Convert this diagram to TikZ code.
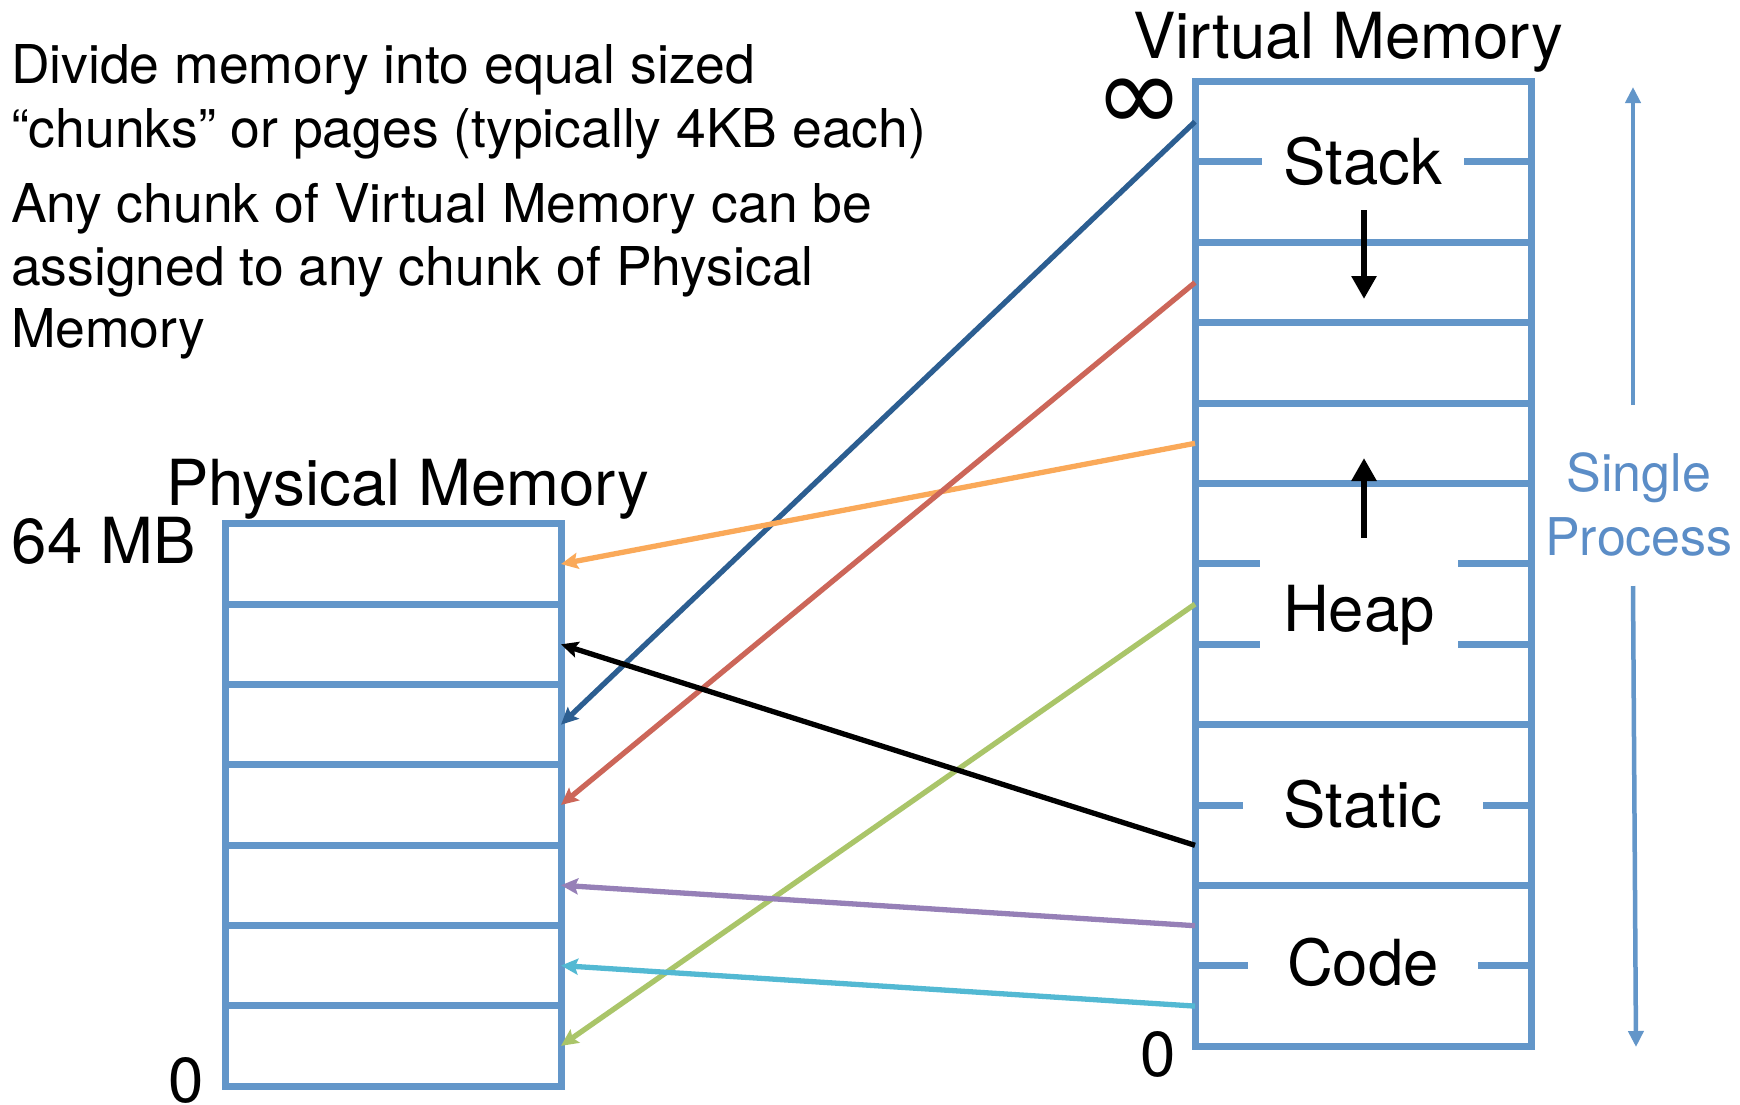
\documentclass[tikz,border=0pt]{standalone}
\usepackage{fontspec}
\setmainfont{TeX Gyre Heros}
\newfontfamily\symfamily{DejaVu Sans}
\usetikzlibrary{arrows.meta}

% palette
\definecolor{boxblue}{RGB}{99,150,201}
\definecolor{labelblue}{RGB}{91,141,199}
\definecolor{mapnavy}{RGB}{44,94,145}
\definecolor{mapred}{RGB}{204,102,89}
\definecolor{maporange}{RGB}{250,169,89}
\definecolor{mapgreen}{RGB}{170,197,105}
\definecolor{mappurple}{RGB}{150,128,183}
\definecolor{mapcyan}{RGB}{83,185,211}

% type sizes
\newcommand{\titlesize}{\fontsize{63.5}{70}\selectfont}
\newcommand{\notesize}{\fontsize{53.5}{63.5}\selectfont}
\newcommand{\sidesize}{\fontsize{52}{62}\selectfont}

\begin{document}
\begin{tikzpicture}[x=1pt,y=-1pt,
  memrow/.style={draw=boxblue, line width=7pt, minimum width=336pt,
                 inner sep=0pt, outer sep=0pt},
  vrow/.style={memrow, minimum height=80.4pt},
  prow/.style={memrow, minimum height=80.3pt},
  seglabel/.style={fill=white, inner sep=0pt, outer sep=0pt, font=\titlesize,
                   text height=45.7pt, text depth=0pt, minimum height=52pt},
  txt/.style={inner sep=0pt, outer sep=0pt},
  map/.style={line width=5.3pt, -{Stealth[length=17pt,width=16pt,inset=3pt]}},
  growarrow/.style={line width=6pt, -{Triangle[length=23pt,width=24pt]}},
  procarrow/.style={draw=boxblue, line width=4.5pt,
                    -{Triangle[length=16pt,width=15pt]}}
]
% canvas
\fill[white] (0,0) rectangle (1740,1104);
\useasboundingbox (0,0) rectangle (1740,1104);

% explanatory notes
\node[txt, anchor=base west, font=\notesize] (n1) at (11,83)  {Divide memory into equal sized};
\node[txt, anchor=base west, font=\notesize] (n2) at (11,147) {“chunks” or pages (typically 4KB each)};
\node[txt, anchor=base west, font=\notesize] (n3) at (11,222) {Any chunk of Virtual Memory can be};
\node[txt, anchor=base west, font=\notesize] (n4) at (11,285) {assigned to any chunk of Physical};
\node[txt, anchor=base west, font=\notesize] (n5) at (11,347) {Memory};

% virtual memory: 12 pages
\foreach \k in {1,...,12}
  \node[vrow] (v\k) at (1363,{81.5+80.4*(\k-0.5)}) {};
% physical memory: 7 frames
\foreach \k in {1,...,7}
  \node[prow] (p\k) at (393,{523.9+80.3*(\k-0.5)}) {};

% segment labels sitting on the page boundaries
\node[seglabel, minimum width=202pt] (stack) at (v1.south) {Stack};
\node[seglabel, minimum width=198pt, minimum height=100pt] (heap) at ([xshift=-4pt,yshift=-5pt]v7.center) {Heap};
\node[seglabel, minimum width=240pt] (static) at (v9.south) {Static};
\node[seglabel, minimum width=230pt] (code) at ([yshift=3pt]v11.south) {Code};

% growth directions of stack and heap
\coordinate (stackfrom) at (1364,210);
\coordinate (stackto)   at (1364,299);
\coordinate (heapfrom)  at (1364,537.5);
\coordinate (heapto)    at (1364,458);
\draw[growarrow] (stackfrom) -- (stackto);
\draw[growarrow] (heapfrom) -- (heapto);

% titles and bounds
\node[txt, anchor=base west, font=\titlesize] (vtitle) at (1133,58)  {Virtual Memory};
\node[txt, anchor=base west, font=\titlesize] (ptitle) at (166,505)  {Physical Memory};
\node[txt, anchor=base west, font=\titlesize] (ptop)   at (12,563)   {64 MB};
\node[txt, anchor=base west, font=\titlesize] (pzero)  at (168,1102) {0};
\node[txt, anchor=base west, font=\titlesize] (vzero)  at (1140,1076) {0};
\node[txt, font=\symfamily\fontsize{108}{108}\selectfont] (vinf) at (1139,105) {∞};

% process extent
\node[txt, anchor=base, font=\sidesize, text=labelblue] (single)  at (1639,491) {Single};
\node[txt, anchor=base, font=\sidesize, text=labelblue] (process) at (1639,555) {Process};
\coordinate (upfrom)   at (1633,405);
\coordinate (upto)     at (1633,87);
\coordinate (downfrom) at (1633,586);
\coordinate (downto)   at (1636,1047);
\draw[procarrow] (upfrom) -- (upto);
\draw[procarrow] (downfrom) -- (downto);

% page-to-frame mapping
\draw[map, mapnavy]   (v1.west)  -- (p3.east);
\draw[map, maporange] (v5.west)  -- (p1.east);
\draw[map, mapred]    (v3.west)  -- (p4.east);
\draw[map, mapgreen]  (v7.west)  -- (p7.east);
\draw[map, mappurple] (v11.west) -- (p5.east);
\draw[map, mapcyan]   (v12.west) -- (p6.east);
\draw[map, black]     (v10.west) -- (p2.east);
\end{tikzpicture}
\end{document}
